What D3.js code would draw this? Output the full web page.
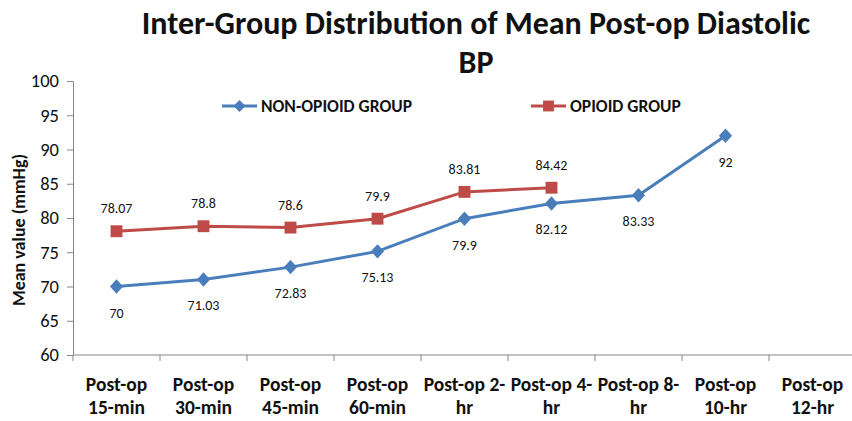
<!DOCTYPE html>
<html>
<head>
<meta charset="utf-8">
<script src="https://cdn.jsdelivr.net/npm/d3@7"></script>
<style>
  body { margin: 0; background: #fff; }
  text { font-family: Carlito, "Open Sans", "Liberation Sans", sans-serif; }
</style>
</head>
<body>
<div id="chart"></div>
<script>
// chart data
const categories = ['Post-op 15-min', 'Post-op 30-min', 'Post-op 45-min', 'Post-op 60-min',
  'Post-op 2-hr', 'Post-op 4-hr', 'Post-op 8-hr', 'Post-op 10-hr', 'Post-op 12-hr'];
const categoryLines = [['Post-op', '15-min'], ['Post-op', '30-min'], ['Post-op', '45-min'], ['Post-op', '60-min'],
  ['Post-op 2-', 'hr'], ['Post-op 4-', 'hr'], ['Post-op 8-', 'hr'], ['Post-op', '10-hr'], ['Post-op', '12-hr']];
const nonOpioid = [70, 71.03, 72.83, 75.13, 79.9, 82.12, 83.33, 92, null];
const opioid = [78.07, 78.8, 78.6, 79.9, 83.81, 84.42, null, null, null];
const yTicks = [60, 65, 70, 75, 80, 85, 90, 95, 100];

const width = 852, height = 421;
const margin = { top: 81, right: 0, bottom: 66, left: 73 };

const svg = d3.select('#chart')
  .append('svg')
  .attr('width', width)
  .attr('height', height);

const x = d3.scaleBand()
  .domain(categories)
  .range([margin.left, width - margin.right + 4]);

const y = d3.scaleLinear()
  .domain([60, 100])
  .range([height - margin.bottom, margin.top]);

const axisColor = '#868686';
const textColor = '#111';

// title
svg.append('text')
  .attr('x', 476).attr('y', 34)
  .attr('text-anchor', 'middle')
  .style('font-size', '32px').style('font-weight', 'bold').attr('fill', textColor)
  .text('Inter-Group Distribution of Mean Post-op Diastolic');
svg.append('text')
  .attr('x', 476).attr('y', 73)
  .attr('text-anchor', 'middle')
  .style('font-size', '32px').style('font-weight', 'bold').attr('fill', textColor)
  .text('BP');

// y axis
const yAxis = svg.append('g')
  .attr('transform', `translate(${margin.left},0)`)
  .call(d3.axisLeft(y).tickValues(yTicks).tickSize(6).tickSizeOuter(0));
yAxis.select('.domain').attr('stroke', axisColor);
yAxis.selectAll('.tick line').attr('stroke', axisColor);
yAxis.selectAll('.tick text')
  .attr('x', -14)
  .style('font-size', '18.5px').attr('fill', textColor);

// x axis
const xAxis = svg.append('g')
  .attr('transform', `translate(0,${y(60)})`);
xAxis.append('line')
  .attr('x1', margin.left).attr('x2', width)
  .attr('stroke', axisColor);
xAxis.selectAll('.xtick')
  .data(categories)
  .enter()
  .append('line')
  .attr('x1', d => x(d)).attr('x2', d => x(d))
  .attr('y1', 0).attr('y2', 6)
  .attr('stroke', axisColor);
const xLabels = xAxis.selectAll('.xlabel')
  .data(categories)
  .enter()
  .append('text')
  .attr('text-anchor', 'middle')
  .attr('transform', d => `translate(${x(d) + x.bandwidth() / 2},0)`)
  .style('font-size', '19.5px').style('font-weight', 'bold').attr('fill', textColor);
xLabels.selectAll('tspan')
  .data((d, i) => categoryLines[i])
  .enter()
  .append('tspan')
  .attr('x', 0)
  .attr('y', (d, i) => 36 + i * 23)
  .text(d => d);

// y axis title
svg.append('text')
  .attr('transform', `translate(25,230) rotate(-90)`)
  .attr('text-anchor', 'middle')
  .style('font-size', '18px').style('font-weight', 'bold').attr('fill', textColor)
  .text('Mean value (mmHg)');

const cx = d => x(d) + x.bandwidth() / 2;

const series = [
  { name: 'NON-OPIOID GROUP', values: nonOpioid, color: '#4A7EBB', marker: 'diamond', dy: 31 },
  { name: 'OPIOID GROUP', values: opioid, color: '#BE4B48', marker: 'square', dy: -18 }
];

series.forEach(s => {
  const pts = categories.map((c, i) => ({ c, v: s.values[i] })).filter(p => p.v !== null);

  const line = d3.line()
    .x(p => cx(p.c))
    .y(p => y(p.v));

  svg.append('path')
    .datum(pts)
    .attr('d', line)
    .attr('fill', 'none')
    .attr('stroke', s.color)
    .attr('stroke-width', 3);

  const sym = s.marker === 'diamond'
    ? d3.symbol().type(d3.symbolDiamond2).size(110)
    : d3.symbol().type(d3.symbolSquare2).size(180);

  svg.selectAll(null)
    .data(pts)
    .enter()
    .append('path')
    .attr('d', sym)
    .attr('transform', p => `translate(${cx(p.c)},${y(p.v)})${s.marker === 'diamond' ? ' scale(1,1.1)' : ''}`)
    .attr('fill', s.color);

  svg.selectAll(null)
    .data(pts)
    .enter()
    .append('text')
    .attr('x', p => cx(p.c))
    .attr('y', p => y(p.v) + s.dy)
    .attr('text-anchor', 'middle')
    .style('font-size', '14px').attr('fill', textColor)
    .text(p => p.v);
});

// legend
const legendItems = [
  { s: series[0], x: 222 },
  { s: series[1], x: 531 }
];
legendItems.forEach(l => {
  const g = svg.append('g').attr('transform', `translate(${l.x},106)`);
  g.append('line')
    .attr('x1', 0).attr('x2', 35)
    .attr('stroke', l.s.color).attr('stroke-width', 3);
  const sym = l.s.marker === 'diamond'
    ? d3.symbol().type(d3.symbolDiamond2).size(90)
    : d3.symbol().type(d3.symbolSquare2).size(150);
  g.append('path')
    .attr('d', sym)
    .attr('transform', 'translate(17.5,0)')
    .attr('fill', l.s.color);
  g.append('text')
    .attr('x', 39).attr('y', 6)
    .style('font-size', '17.5px').style('font-weight', 'bold').attr('fill', textColor)
    .text(l.s.name);
});
</script>
</body>
</html>
